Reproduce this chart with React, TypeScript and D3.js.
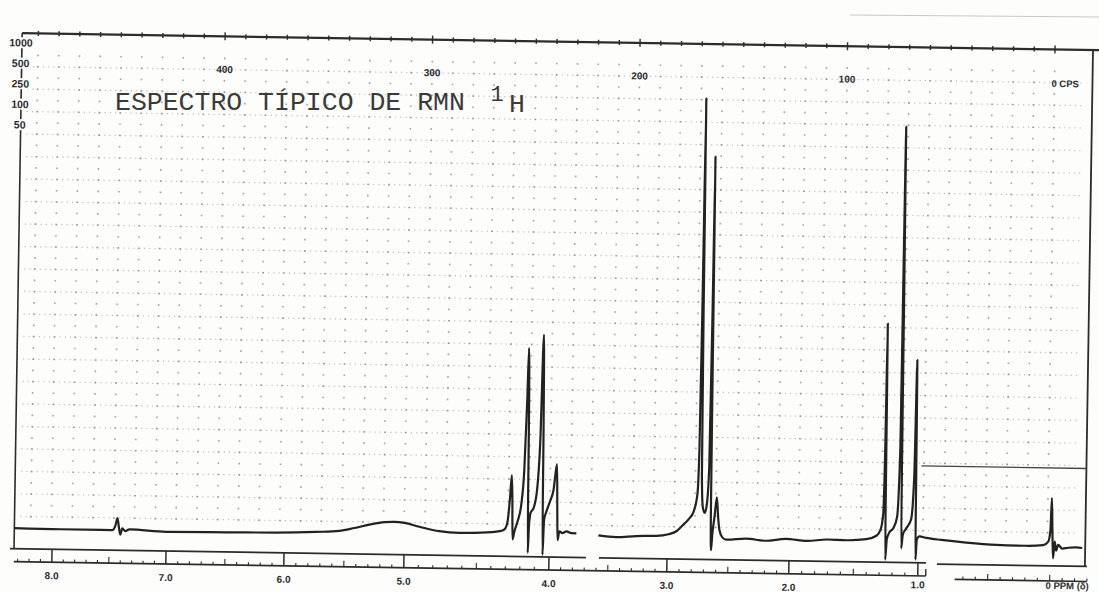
import React from 'react';
import * as d3 from 'd3';

const W = 1099;
const H = 592;

// Spectrum trace, segment 1 (left strip): chemical shift (ppm) and relative intensity
const seg1Ppm = [8.297, 7.928, 7.606, 7.51, 7.486, 7.47, 7.458, 7.446, 7.43, 7.406, 7.373, 7.076, 6.594, 6.193, 5.871, 5.687, 5.566, 5.446, 5.325, 5.245, 5.165, 5.044, 4.884, 4.723, 4.546, 4.397, 4.361, 4.337, 4.321, 4.308, 4.301, 4.295, 4.281, 4.257, 4.229, 4.209, 4.194, 4.186, 4.178, 4.172, 4.164, 4.153, 4.129, 4.104, 4.084, 4.068, 4.06, 4.053, 4.044, 4.028, 4.0, 3.972, 3.947, 3.939, 3.933, 3.92, 3.896, 3.863, 3.823, 3.783];
const seg1Int = [-0.1, -0.2, -0.2, -0.2, 0.8, 2.5, 0.5, -1.2, 0.2, -0.4, 0, -0.4, -0.3, -0.2, 0.1, 0.4, 1.1, 1.9, 2.5, 2.6, 2.4, 1.6, 0.7, 0.4, 0.5, 0.9, 1.3, 3.1, 8, 13.4, 8, -0.9, 0.9, 3.1, 6.9, 14.7, 30, 41.7, 25.8, -3.8, 2.4, 5.1, 6.2, 10.2, 21.3, 44.7, 25.8, -4.2, 3.6, 5.3, 7.6, 10.2, 16, 5.8, -0.9, 1.1, 0.7, 1.1, 0.7, 0.7];

// Spectrum trace, segment 2 (right strip)
const seg2Ppm = [3.606, 3.462, 3.301, 3.141, 3.044, 2.98, 2.932, 2.884, 2.843, 2.815, 2.805, 2.799, 2.794, 2.789, 2.782, 2.771, 2.755, 2.739, 2.724, 2.717, 2.713, 2.709, 2.705, 2.7, 2.691, 2.675, 2.659, 2.647, 2.635, 2.61, 2.578, 2.42, 2.26, 2.1, 1.93, 1.77, 1.61, 1.454, 1.373, 1.341, 1.321, 1.313, 1.308, 1.304, 1.3, 1.289, 1.269, 1.237, 1.209, 1.192, 1.185, 1.178, 1.173, 1.161, 1.133, 1.096, 1.076, 1.066, 1.061, 1.057, 1.048, 1.028, 0.972, 0.851, 0.651, 0.41, 0.169, 0.032, -0.008, -0.024, -0.032, -0.04, -0.048, -0.06, -0.072, -0.088, -0.12, -0.169, -0.233, -0.281];
const seg2Int = [0.3, 0.0, 0.3, 0.4, 0.8, 1.5, 2.8, 4.2, 6, 10, 20, 50, 97.8, 50, 14, 7, 5.7, 7.5, 16, 50, 84.9, 40, 5, -2.6, 1, 5, 9.2, 5, 2, 0.3, -0.2, 0.1, -0.3, 0.2, -0.2, 0.2, 0.1, 0.4, 1.2, 2.5, 6, 20, 48.4, 20, -4.1, 0.5, 2, 3, 5.5, 20, 92.2, 30, -1.5, 1.5, 3, 5, 15, 40.4, 15, -4, 0.5, 1.2, 0.9, 0.5, 0, -0.4, -0.5, -0.3, 0.5, 3, 10.2, 3, -3.2, 0.5, -1.5, -0.2, -1, -0.8, -0.7, -0.8];

// Axis labels
const cpsLabels = [400, 300, 200, 100];
const ppmMajor = [8, 7, 6, 5, 4, 3, 2, 1];
const sensLabels = ['1000', '500', '250', '100', '50'];
const titleText = 'ESPECTRO TÍPICO DE RMN';
const titleSup = '1';
const titleNucleus = 'H';
const zeroLabel = '0 PPM (δ)';
const cpsUnit = '0 CPS';

export default function App() {
  const ink = '#2c2c2c';
  const xTrace = d3.scaleLinear().domain([0, 8]).range([1051, 55]);
  const xCps = d3.scaleLinear().domain([0, 400]).range([1051, 221]);
  const y = d3.scaleLinear().domain([0, 100]).range([536, 86]);
  // printed ppm ruler (paper strip, slightly irregular)
  const xPaper = d3.scaleLinear().domain([8, 7, 6, 5, 4, 3, 2, 1]).range([56, 170, 288, 408, 553, 671, 793, 922]);
  const xPaper0 = d3.scaleLinear().domain([1, 0]).range([930, 1054]);

  const frameL = 18, frameR = 1089, frameT = 41.5, frameB = 557, axisY = 570;
  const axis0Y = 573, frame0Y = 558;

  const line = d3.line<[number, number]>()
    .x(d => xTrace(d[0]))
    .y(d => y(d[1]))
    .curve(d3.curveMonotoneX);
  const seg1 = line(seg1Ppm.map((p, i) => [p, seg1Int[i]] as [number, number])) || '';
  const seg2 = line(seg2Ppm.map((p, i) => [p, seg2Int[i]] as [number, number])) || '';

  // dotted chart-paper grid
  const gridCps = d3.range(0, 500, 10);
  const gridRows = d3.range(2.5, 105.1, 2.5);
  let dots = '';
  gridCps.forEach(c => {
    const px = xCps(c);
    if (px < frameL + 3 || px > frameR - 3) return;
    gridRows.forEach(r => {
      const py = y(r);
      dots += `M${(px - 0.8).toFixed(1)},${(py - 0.8).toFixed(1)}h1.6v1.6h-1.6z`;
    });
  });
  let rowDots = '';
  gridRows.forEach((r, ri) => {
    if (ri % 2 !== 0) return;
    const py = y(r);
    for (let c = 495; c > -15; c -= 2.5) {
      const px = xCps(c);
      if (px < frameL + 3 || px > frameR - 3) continue;
      rowDots += `M${px.toFixed(1)},${(py - 0.6).toFixed(1)}h1.2v1.2h-1.2z`;
    }
  });

  // top cps ticks
  const cpsTicks = d3.range(0, 500, 10).filter(c => xCps(c) >= frameL && xCps(c) <= frameR + 10);

  // bottom ppm ruler ticks
  const ppmTicks = d3.range(10, 84).map(i => i / 10);
  const ppm0Ticks = d3.range(-3, 8).map(i => i / 10);
  const fmt = d3.format('.1f');

  const sensY = d3.scalePoint<string>().domain(sensLabels).range([51, 133]);
  const sans = "'Liberation Sans', Arial, sans-serif";
  const mono = "'Liberation Mono', 'Courier New', monospace";

  return (
    <svg width={W} height={H} style={{ position: 'absolute', left: 0, top: 0 }} xmlns="http://www.w3.org/2000/svg">
      <rect x={0} y={0} width={W} height={H} fill="#fdfdfc" />
      <line x1={850} y1={15} x2={1099} y2={17} stroke="#c8c8c8" strokeWidth={1} />
      <g transform={`rotate(0.9, 550, 300)`}>
        <path d={dots} fill="#5a5a5a" opacity={0.55} />
        <path d={rowDots} fill="#666" opacity={0.42} />

        {/* frame */}
        <line x1={frameL} y1={frameT} x2={1102} y2={frameT} stroke={ink} strokeWidth={2.2} />
        {cpsTicks.map(c => (
          <line key={'ct' + c} x1={xCps(c)} x2={xCps(c)} y1={frameT - (c % 100 === 0 ? 4 : 2.5)} y2={frameT + (c % 100 === 0 ? 4 : 2.5)} stroke={ink} strokeWidth={1.4} />
        ))}
        <line x1={frameL} y1={frameT} x2={frameL} y2={frameB} stroke={ink} strokeWidth={1.6} />
        <line x1={frameR} y1={frameT} x2={frameR} y2={frame0Y} stroke={ink} strokeWidth={1.8} />
        <line x1={924} y1={460} x2={frameR} y2={460} stroke="#444" strokeWidth={1.4} />

        {/* bottom frame strips */}
        <line x1={frameL - 4} y1={frameB} x2={590} y2={frameB} stroke={ink} strokeWidth={1.8} />
        <line x1={603} y1={frameB} x2={930} y2={frameB} stroke={ink} strokeWidth={1.8} />
        <line x1={941} y1={frame0Y} x2={frameR + 2} y2={frame0Y} stroke={ink} strokeWidth={1.8} />

        {/* ppm ruler */}
        <line x1={frameL} y1={axisY} x2={930} y2={axisY} stroke={ink} strokeWidth={1.6} />
        <line x1={930} y1={axisY} x2={930} y2={axisY - 7} stroke={ink} strokeWidth={1.4} />
        {ppmTicks.map(p => {
          const isMajor = Math.abs(p - Math.round(p)) < 1e-6;
          const isHalf = Math.abs(p * 2 - Math.round(p * 2)) < 1e-6 && !isMajor;
          const x = xPaper(p);
          return (
            <line key={'pt' + p} x1={x} x2={x} y1={isMajor ? frameB : axisY - (isHalf ? 6 : 3)} y2={axisY} stroke={ink} strokeWidth={isMajor ? 1.5 : 1.1} />
          );
        })}
        {ppmMajor.map(p => (
          <text key={'pl' + p} x={xPaper(p)} y={p === 1 ? 582.5 : 587} textAnchor="middle" fontFamily={sans} fontWeight="bold" fontSize={10} fill={ink}>{fmt(p)}</text>
        ))}
        <line x1={959} y1={axis0Y} x2={frameR + 2} y2={axis0Y} stroke={ink} strokeWidth={1.6} />
        {ppm0Ticks.map(p => {
          const isBig = Math.abs(p * 2 - Math.round(p * 2)) < 1e-6;
          const x = xPaper0(p);
          return <line key={'p0' + p} x1={x} x2={x} y1={axis0Y - (isBig ? 6 : 3)} y2={axis0Y} stroke={ink} strokeWidth={1.1} />;
        })}
        <text x={xPaper0(0) - 4} y={581} textAnchor="start" fontFamily={sans} fontWeight="bold" fontSize={9.5} fill={ink}>{zeroLabel}</text>

        {/* cps labels */}
        {cpsLabels.map(c => (
          <text key={'cl' + c} x={xCps(c)} y={78} textAnchor="middle" fontFamily={sans} fontWeight="bold" fontSize={10} fill={ink}>{c}</text>
        ))}
        <text x={xCps(0) - 3} y={79} textAnchor="start" fontFamily={sans} fontWeight="bold" fontSize={9.5} fill={ink}>{cpsUnit}</text>

        {/* sensitivity labels on the left */}
        {sensLabels.map(s => (
          <g key={'s' + s}>
            <rect x={frameL - s.length * 3.1 - 1} y={(sensY(s) || 0) - 5.5} width={s.length * 6.2 + 2} height={11} fill="#fdfdfc" />
            <text x={frameL - 1} y={(sensY(s) || 0) + 3.8} textAnchor="middle" fontFamily={sans} fontWeight="bold" fontSize={10.5} fill={ink}>{s}</text>
          </g>
        ))}

        {/* spectrum */}
        <path d={seg1} fill="none" stroke="#222" strokeWidth={2.2} strokeLinejoin="round" />
        <path d={seg2} fill="none" stroke="#222" strokeWidth={2.2} strokeLinejoin="round" />
      </g>

      {/* typed title */}
      <text x={115} y={110} fontFamily={mono} fontSize={26.5} fill="#3a3a3a">{titleText}</text>
      <text x={497} y={101} textAnchor="middle" fontFamily={mono} fontSize={22} fill="#3a3a3a">{titleSup}</text>
      <text x={517} y={112} textAnchor="middle" fontFamily={mono} fontSize={26.5} fill="#3a3a3a">{titleNucleus}</text>
    </svg>
  );
}
